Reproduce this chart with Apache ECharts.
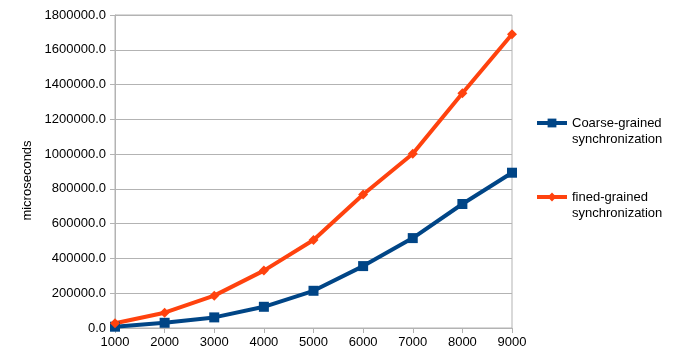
<!DOCTYPE html>
<html><head><meta charset="utf-8">
<script src="https://cdn.jsdelivr.net/npm/echarts@6/dist/echarts.min.js"></script>
<style>html,body{margin:0;padding:0;background:#fff}#c{width:689px;height:360px}</style>
</head><body><div id="c"></div>
<script>
const categories = ['1000','2000','3000','4000','5000','6000','7000','8000','9000'];
const coarse = [7500, 30000, 61000, 122000, 214000, 356000, 517000, 713000, 893000];
const fine = [27000, 88000, 186000, 330000, 506000, 768000, 1002000, 1350000, 1689000];
const seriesNames = ['Coarse-grained\nsynchronization', 'fined-grained\nsynchronization'];
const yAxisName = 'microseconds';

const chart = echarts.init(document.getElementById('c'));
const font = 'Liberation Sans, Arial, sans-serif';
chart.setOption({
  animation: false,
  textStyle: {fontFamily: font},
  grid: {left: 115, right: 177, top: 15, bottom: 32, show: true, borderColor: '#b3b3b3', borderWidth: 1},
  xAxis: {
    type: 'category', data: categories, boundaryGap: false,
    axisLine: {lineStyle: {color: '#b3b3b3', width: 1}},
    axisTick: {show: true, length: 5, lineStyle: {color: '#b3b3b3'}},
    axisLabel: {color: '#000', fontSize: 13, fontFamily: font, margin: 8},
    splitLine: {show: false}
  },
  yAxis: {
    type: 'value', min: 0, max: 1800000, interval: 200000,
    name: yAxisName, nameLocation: 'middle', nameRotate: 90, nameGap: 79,
    nameTextStyle: {color: '#000', fontSize: 13, fontFamily: font, padding: [0, 18, 0, 0]},
    axisLine: {show: true, lineStyle: {color: '#b3b3b3', width: 1}},
    axisTick: {show: true, length: 5, lineStyle: {color: '#b3b3b3'}},
    axisLabel: {color: '#000', fontSize: 13, fontFamily: font, margin: 9, formatter: v => v.toFixed(1)},
    splitLine: {show: true, lineStyle: {color: '#b3b3b3', width: 1}}
  },
  legend: {
    orient: 'vertical', left: 535, top: 99, padding: 0, itemWidth: 30, itemHeight: 11, itemGap: 26,
    lineStyle: {width: 4},
    formatter: name => '\n' + name,
    textStyle: {color: '#000', fontSize: 13, fontFamily: font, lineHeight: 16},
    data: seriesNames
  },
  series: [
    {name: seriesNames[0], type: 'line', data: coarse, symbol: 'rect', symbolSize: 10,
     itemStyle: {color: '#004586'}, lineStyle: {color: '#004586', width: 4}},
    {name: seriesNames[1], type: 'line', data: fine, symbol: 'diamond', symbolSize: 10,
     itemStyle: {color: '#ff420e'}, lineStyle: {color: '#ff420e', width: 4}}
  ]
});
</script></body></html>
